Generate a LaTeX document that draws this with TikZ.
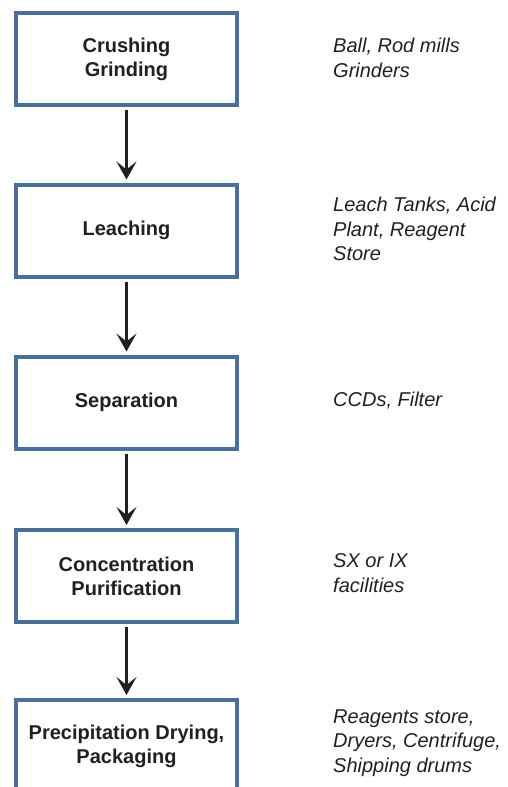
\documentclass[tikz,border=0pt]{standalone}
\usepackage{fontspec}
\setmainfont{Liberation Sans}
\usetikzlibrary{arrows.meta}
\definecolor{boxblue}{RGB}{74,112,153}
\definecolor{txt}{RGB}{35,31,32}
\tikzset{
  stepbox/.style={draw=boxblue, line width=4pt, fill=white, minimum width=221pt, minimum height=92pt, inner sep=0pt, align=center, text=txt, font=\fontsize{20pt}{24pt}\selectfont\bfseries},
  side/.style={anchor=west, inner sep=0pt, align=left, text=txt, font=\fontsize{20pt}{24.5pt}\selectfont\itshape},
  flow/.style={line width=3pt, draw=txt, -{Stealth[length=18pt,width=20pt,inset=8pt]}, shorten <=3pt, shorten >=3pt}
}
\begin{document}
\begin{tikzpicture}[x=1pt,y=1pt]
\useasboundingbox (0,0) rectangle (508,-787);
\clip (0,0) rectangle (508,-787);
\node[stepbox] (b1) at (126.5,-59) {Crushing\\Grinding};
\node[stepbox] (b2) at (126.5,-230.5) {Leaching};
\node[stepbox] (b3) at (126.5,-402.5) {Separation};
\node[stepbox] (b4) at (126.5,-576) {Concentration\\Purification};
\node[stepbox] (b5) at (126.5,-746) {Precipitation Drying,\\Packaging};
\node[side] (l1) at (333,-58) {Ball, Rod mills\\Grinders};
\node[side] (l2) at (333,-229) {Leach Tanks, Acid\\Plant, Reagent\\Store};
\node[side] (l3) at (333,-401) {CCDs, Filter};
\node[side] (l4) at (333,-573) {SX or IX\\facilities};
\node[side] (l5) at (333,-743) {Reagents store,\\Dryers, Centrifuge,\\Shipping drums};
\draw[flow] (b1.south) -- (b2.north);
\draw[flow] (b2.south) -- (b3.north);
\draw[flow] (b3.south) -- (b4.north);
\draw[flow] (b4.south) -- (b5.north);
\end{tikzpicture}
\end{document}
